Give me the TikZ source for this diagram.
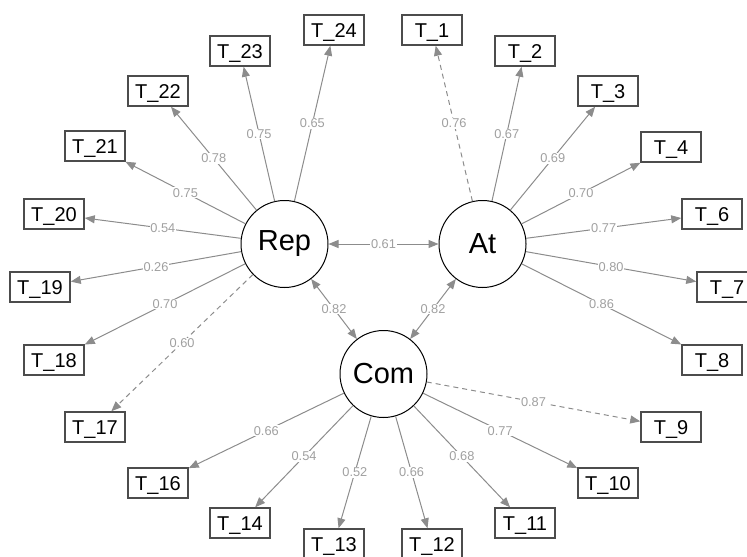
\documentclass[tikz,border=0pt]{standalone}
\usepackage{fontspec}
\setmainfont{Liberation Sans}
\usetikzlibrary{arrows.meta}
\definecolor{pathgray}{HTML}{8C8C8C}
\definecolor{labgray}{HTML}{A0A0A0}
\tikzset{
  latent/.style={draw, circle, minimum size=43.5pt, inner sep=0pt, line width=0.5pt, font=\fontsize{14.5}{16}\selectfont},
  manifest/.style={draw=black!70, rectangle, minimum width=30pt, minimum height=15pt, inner sep=0pt, text height=7.2pt, text depth=0pt, line width=0.75pt, font=\fontsize{10}{12}\selectfont},
  load/.style={draw=pathgray, line width=0.5pt, -{Triangle[length=5pt,width=4pt]}},
  cov/.style={draw=pathgray, line width=0.5pt, {Triangle[length=5pt,width=4pt]}-{Triangle[length=5pt,width=4pt]}},
  fixd/.style={dash pattern=on 2.5pt off 2pt},
  lbl/.style={midway, fill=white, inner sep=0.4pt, text=labgray, font=\fontsize{6.4}{7}\selectfont},
}
\begin{document}
\begin{tikzpicture}[x=0.5pt, y=-0.5pt]
    \useasboundingbox (0,0) rectangle (747,556);
    %fattori latenti
    \node[latent] (rep) at (284.5,244) {Rep};
    \node[latent] (at) at (482.5,244) {At};
    \node[latent] (com) at (383.5,374) {Com};

    %indicatori di Rep
    \node[manifest] (t24) at (334,30) {T\_24};
    \node[manifest] (t23) at (240,51) {T\_23};
    \node[manifest] (t22) at (158,91) {T\_22};
    \node[manifest] (t21) at (95,146) {T\_21};
    \node[manifest] (t20) at (54,214) {T\_20};
    \node[manifest] (t19) at (40,287) {T\_19};
    \node[manifest] (t18) at (54,360) {T\_18};
    \node[manifest] (t17) at (95,427) {T\_17};
    %indicatori di At
    \node[manifest] (t1) at (432,30) {T\_1};
    \node[manifest] (t2) at (525,51) {T\_2};
    \node[manifest] (t3) at (608,91) {T\_3};
    \node[manifest] (t4) at (671,147) {T\_4};
    \node[manifest] (t6) at (712,214) {T\_6};
    \node[manifest] (t7) at (727,287) {T\_7};
    \node[manifest] (t8) at (712,360) {T\_8};
    %indicatori di Com
    \node[manifest] (t9) at (671,427) {T\_9};
    \node[manifest] (t10) at (608,483) {T\_10};
    \node[manifest] (t11) at (525,523) {T\_11};
    \node[manifest] (t12) at (432,544) {T\_12};
    \node[manifest] (t13) at (334,544) {T\_13};
    \node[manifest] (t14) at (240,523) {T\_14};
    \node[manifest] (t16) at (158,483) {T\_16};

    %covarianze
    \draw[cov] (rep) -- (at) node[lbl] {0.61};
    \draw[cov] (rep) -- (com) node[lbl] {0.82};
    \draw[cov] (at) -- (com) node[lbl] {0.82};

    %saturazioni Rep
    \draw[load] (rep) -- (t24) node[lbl] {0.65};
    \draw[load] (rep) -- (t23) node[lbl] {0.75};
    \draw[load] (rep) -- (t22) node[lbl] {0.78};
    \draw[load] (rep) -- (t21) node[lbl] {0.75};
    \draw[load] (rep) -- (t20) node[lbl] {0.54};
    \draw[load] (rep) -- (t19) node[lbl] {0.26};
    \draw[load] (rep) -- (t18) node[lbl] {0.70};
    \draw[load, fixd] (rep) -- (t17) node[lbl] {0.60};
    %saturazioni At
    \draw[load, fixd] (at) -- (t1) node[lbl] {0.76};
    \draw[load] (at) -- (t2) node[lbl] {0.67};
    \draw[load] (at) -- (t3) node[lbl] {0.69};
    \draw[load] (at) -- (t4) node[lbl] {0.70};
    \draw[load] (at) -- (t6) node[lbl] {0.77};
    \draw[load] (at) -- (t7) node[lbl] {0.80};
    \draw[load] (at) -- (t8) node[lbl] {0.86};
    %saturazioni Com
    \draw[load, fixd] (com) -- (t9) node[lbl] {0.87};
    \draw[load] (com) -- (t10) node[lbl] {0.77};
    \draw[load] (com) -- (t11) node[lbl] {0.68};
    \draw[load] (com) -- (t12) node[lbl] {0.66};
    \draw[load] (com) -- (t13) node[lbl] {0.52};
    \draw[load] (com) -- (t14) node[lbl] {0.54};
    \draw[load] (com) -- (t16) node[lbl] {0.66};
\end{tikzpicture}
\end{document}
